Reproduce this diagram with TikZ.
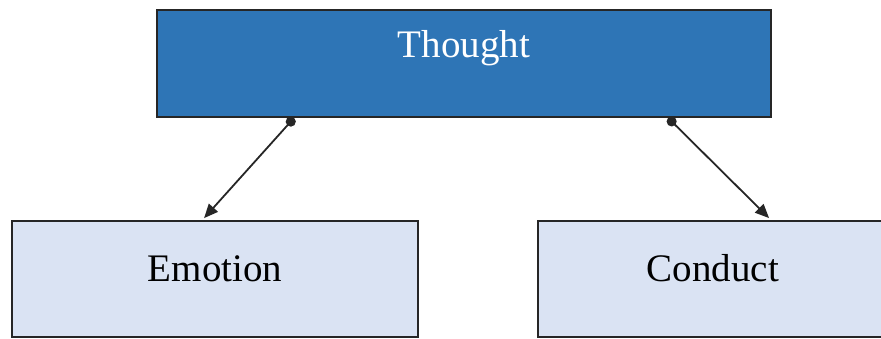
\documentclass[tikz,border=0pt]{standalone}
\usepackage{fontspec}
\setmainfont{Liberation Serif}
\usetikzlibrary{arrows.meta}
\definecolor{topblue}{HTML}{2E75B6}
\definecolor{paleblue}{HTML}{DAE3F3}
\tikzset{
	box/.style={draw=black!85, line width=1.8pt, rectangle, inner sep=0pt, anchor=base, font=\fontsize{39}{47}\selectfont},
	link/.style={line width=1.8pt, black!85, {Circle[length=10pt]}-{Triangle[length=14pt,width=12pt]}}
}
\begin{document}
\begin{tikzpicture}[x=1pt,y=-1pt]
			\useasboundingbox (0,0) rectangle (881,338);
			\clip (0,0) rectangle (881,338);
			\node[box, fill=topblue, text=white, minimum width=614pt, text height=47pt, text depth=60pt] (thought) at (464,57) {Thought};
			\node[box, fill=paleblue, minimum width=406pt, text height=60pt, text depth=56pt] (emotion) at (215,281) {Emotion};
			\node[box, fill=paleblue, minimum width=350pt, text height=60pt, text depth=56pt] (conduct) at (713,281) {Conduct};
			
			\draw[link] ([xshift=138pt]thought.south west) -- ([xshift=193pt,yshift=2pt]emotion.north west);
			\draw[link] ([xshift=512pt]thought.south west) -- ([xshift=232pt,yshift=2pt]conduct.north west);
		\end{tikzpicture}
\end{document}
